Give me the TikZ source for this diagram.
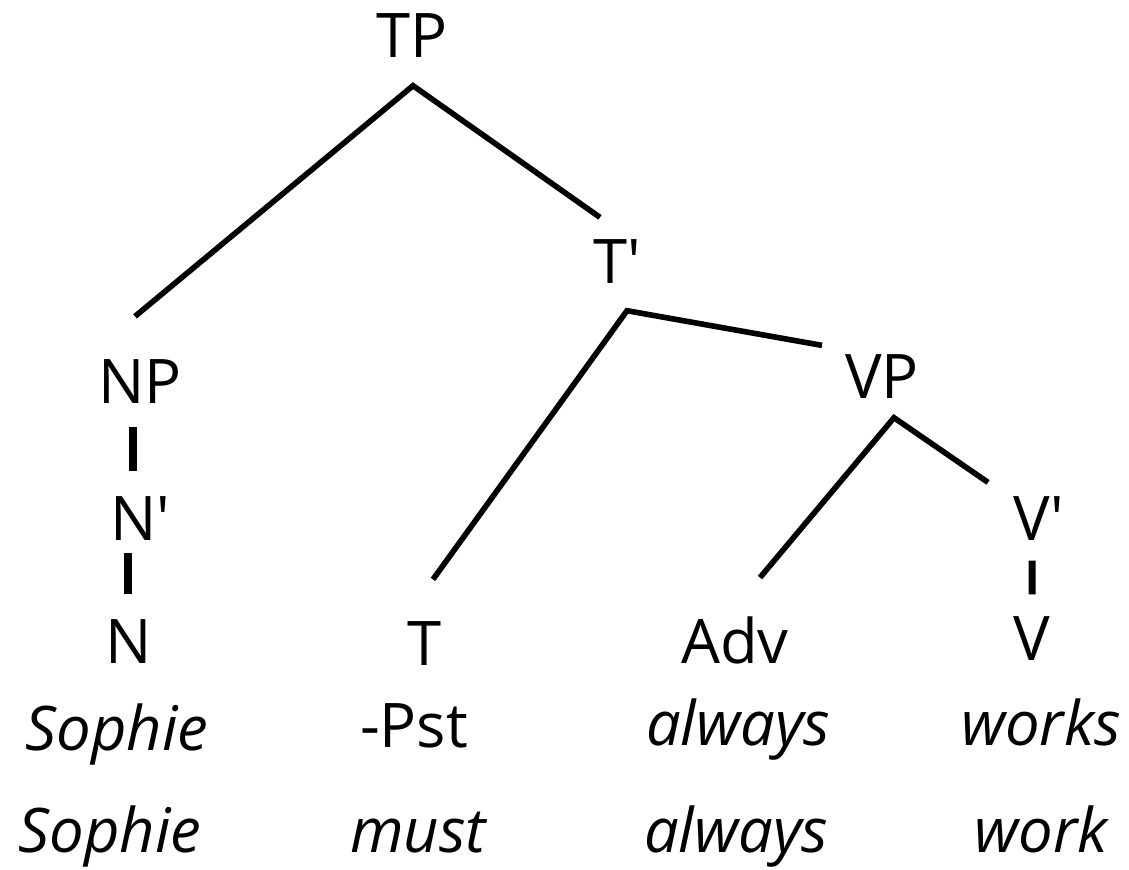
\documentclass[tikz,border=0pt]{standalone}
\usepackage{fontspec}
\setmainfont{Open Sans}
\usepackage{tikz}

\tikzset{
    cat/.style={anchor=base, inner sep=0pt, font=\fontsize{17.5}{21}\selectfont},
    word/.style={cat, font=\fontsize{17.5}{21}\selectfont\itshape},
    branch/.style={line width=1.6pt},
    unary/.style={line width=2pt}
}

\begin{document}
\begin{tikzpicture}
        \useasboundingbox (0, 0) rectangle (11.29, -8.69);

        \node[cat] (TP) at (4.12, -0.58) {TP};
        \node[cat] (Tbar) at (6.17, -2.83) {T\textquotesingle};
        \node[cat] (NP) at (1.40, -4.03) {NP};
        \node[cat] (VP) at (8.82, -3.98) {VP};
        \node[cat] (Nbar) at (1.40, -5.40) {N\textquotesingle};
        \node[cat] (Vbar) at (10.39, -5.40) {V\textquotesingle};
        \node[cat] (N) at (1.29, -6.63) {N};
        \node[cat] (T) at (4.25, -6.65) {T};
        \node[cat] (Adv) at (7.35, -6.63) {Adv};
        \node[cat] (V) at (10.32, -6.60) {V};

        \node[word] (sophie) at (1.17, -7.50) {Sophie};
        \node[cat] (pst) at (4.14, -7.47) {-Pst};
        \node[word] (always) at (7.38, -7.45) {always};
        \node[word] (works) at (10.41, -7.45) {works};

        \node[word] (sophie2) at (1.10, -8.52) {Sophie};
        \node[word] (must) at (4.18, -8.52) {must};
        \node[word] (always2) at (7.36, -8.52) {always};
        \node[word] (work) at (10.41, -8.52) {work};

        \draw[branch] ([shift={(-0.05, 0.42)}]NP.north) -- ([shift={(0.01, -0.27)}]TP.south)
            -- ([shift={(-0.17, 0.21)}]Tbar.north);
        \draw[branch] ([shift={(0.08, 0.41)}]T.north) -- ([shift={(0.10, -0.27)}]Tbar.south)
            -- ([shift={(-0.60, 0.08)}]VP.north);
        \draw[branch] ([shift={(0.25, 0.38)}]Adv.north) -- ([shift={(0.12, -0.19)}]VP.south)
            -- ([shift={(-0.51, 0.13)}]Vbar.north);

        \draw[unary] ([shift={(-0.07, -0.23)}]NP.south) -- ([shift={(-0.07, 0.24)}]Nbar.north);
        \draw[unary] ([shift={(-0.12, -0.12)}]Nbar.south) -- ([shift={(-0.01, 0.24)}]N.north);
        \draw[unary] ([shift={(-0.07, -0.20)}]Vbar.south) -- ([shift={(0, 0.21)}]V.north);
    \end{tikzpicture}
\end{document}
